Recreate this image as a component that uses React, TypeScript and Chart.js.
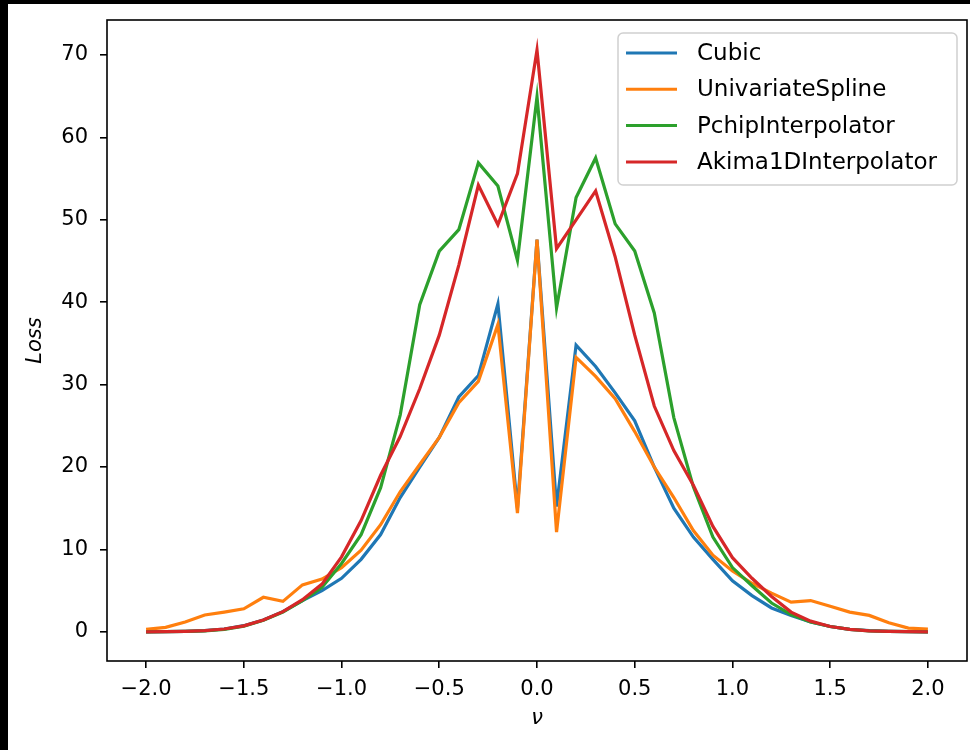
import React, { useEffect, useRef } from "react";
import { Chart, registerables } from "chart.js";

Chart.register(...registerables);

const nu = [
  -2.0, -1.9, -1.8, -1.7, -1.6, -1.5, -1.4, -1.3, -1.2, -1.1,
  -1.0, -0.9, -0.8, -0.7, -0.6, -0.5, -0.4, -0.3, -0.2, -0.1,
  0.0, 0.1, 0.2, 0.3, 0.4, 0.5, 0.6, 0.7, 0.8, 0.9,
  1.0, 1.1, 1.2, 1.3, 1.4, 1.5, 1.6, 1.7, 1.8, 1.9, 2.0,
];

const cubic = [
  0.0, 0.02, 0.06, 0.15, 0.35, 0.75, 1.45, 2.45, 3.8, 5.0,
  6.5, 8.8, 11.8, 16.3, 20.0, 23.6, 28.5, 31.1, 39.8, 15.0,
  47.6, 15.2, 34.8, 32.2, 29.0, 25.6, 20.0, 15.0, 11.5, 8.8,
  6.2, 4.4, 2.9, 2.0, 1.2, 0.65, 0.3, 0.14, 0.06, 0.02, 0.0,
];

const univariateSpline = [
  0.3, 0.55, 1.2, 2.05, 2.4, 2.8, 4.2, 3.7, 5.7, 6.4,
  7.8, 9.9, 13.0, 17.0, 20.3, 23.6, 27.8, 30.4, 37.3, 14.4,
  47.6, 12.1, 33.3, 31.0, 28.3, 24.3, 20.0, 16.3, 12.3, 9.3,
  7.4, 5.9, 4.7, 3.6, 3.8, 3.1, 2.4, 2.0, 1.1, 0.45, 0.35,
];

const pchip = [
  0.0, 0.02, 0.05, 0.12, 0.3, 0.7, 1.4, 2.4, 3.8, 5.4,
  8.3, 11.8, 17.5, 26.3, 39.7, 46.2, 48.8, 56.9, 54.1, 45.1,
  64.9, 39.3, 52.7, 57.5, 49.5, 46.2, 38.7, 26.0, 17.6, 11.5,
  7.8, 5.6, 3.5, 2.1, 1.2, 0.65, 0.3, 0.13, 0.05, 0.02, 0.0,
];

const akima = [
  0.0, 0.02, 0.06, 0.15, 0.35, 0.73, 1.45, 2.45, 3.9, 5.8,
  9.1, 13.5, 19.0, 23.7, 29.5, 36.0, 44.5, 54.2, 49.4, 55.6,
  70.6, 46.5, 50.0, 53.5, 45.5, 36.0, 27.4, 22.0, 17.8, 12.8,
  9.0, 6.5, 4.3, 2.4, 1.3, 0.65, 0.3, 0.13, 0.05, 0.02, 0.0,
];

const seriesNames = ["Cubic", "UnivariateSpline", "PchipInterpolator", "Akima1DInterpolator"];
const seriesValues = [cubic, univariateSpline, pchip, akima];
const seriesColors = ["#1f77b4", "#ff7f0e", "#2ca02c", "#d62728"];

const xTicks = [-2.0, -1.5, -1.0, -0.5, 0.0, 0.5, 1.0, 1.5, 2.0];
const yTicks = [0, 10, 20, 30, 40, 50, 60, 70];
const xLabel = "ν";
const yLabel = "Loss";

const FONT = '"DejaVu Sans", "Liberation Sans", sans-serif';

const decorPlugin = {
  id: "decor",
  afterDraw(chart: any) {
    const { ctx, chartArea: a } = chart;
    ctx.save();
    // frame
    ctx.strokeStyle = "#000";
    ctx.lineWidth = 1.6;
    ctx.strokeRect(a.left, a.top, a.right - a.left, a.bottom - a.top);

    // axis labels
    ctx.fillStyle = "#000";
    ctx.font = `italic 21px ${FONT}`;
    ctx.textAlign = "center";
    ctx.textBaseline = "middle";
    ctx.fillText(xLabel, (a.left + a.right) / 2, a.bottom + 58);
    ctx.save();
    ctx.translate(a.left - 71, (a.top + a.bottom) / 2);
    ctx.rotate(-Math.PI / 2);
    ctx.fillText(yLabel, 0, 0);
    ctx.restore();

    // legend
    const boxRight = a.right - 10;
    const boxLeft = boxRight - 339;
    const boxTop = a.top + 13;
    const boxBottom = boxTop + 152;
    ctx.beginPath();
    (ctx as any).roundRect(boxLeft, boxTop, boxRight - boxLeft, boxBottom - boxTop, 5);
    ctx.fillStyle = "rgba(255,255,255,0.8)";
    ctx.fill();
    ctx.strokeStyle = "#d0d0d0";
    ctx.lineWidth = 1.5;
    ctx.stroke();

    ctx.font = `23px ${FONT}`;
    ctx.textAlign = "left";
    ctx.textBaseline = "middle";
    seriesNames.forEach((name, i) => {
      const y = boxTop + 20 + i * 36.3;
      ctx.strokeStyle = seriesColors[i];
      ctx.lineWidth = 3;
      ctx.beginPath();
      ctx.moveTo(boxLeft + 8, y);
      ctx.lineTo(boxLeft + 59, y);
      ctx.stroke();
      ctx.fillStyle = "#000";
      ctx.fillText(name, boxLeft + 79, y + 1);
    });
    ctx.restore();
  },
};

function fmtX(v: number) {
  return v.toFixed(1).replace("-", "\u2212");
}

export default function App() {
  const canvasRef = useRef<HTMLCanvasElement | null>(null);

  useEffect(() => {
    const canvas = canvasRef.current;
    if (!canvas) return;
    const chart = new Chart(canvas, {
      type: "line",
      data: {
        datasets: seriesNames.map((name, i) => ({
          label: name,
          data: nu.map((x, j) => ({ x, y: seriesValues[i][j] })),
          borderColor: seriesColors[i],
          backgroundColor: seriesColors[i],
          borderWidth: 3.2,
          pointRadius: 0,
          tension: 0,
          fill: false,
          order: seriesNames.length - i,
        })),
      },
      options: {
        responsive: false,
        animation: false,
        devicePixelRatio: 1,
        layout: { padding: { top: 16, right: 3, left: 0, bottom: 0 } },
        plugins: {
          legend: { display: false },
          tooltip: { enabled: false },
          title: { display: false },
        },
        scales: {
          x: {
            type: "linear",
            min: -2.2,
            max: 2.2,
            afterBuildTicks: (scale: any) => {
              scale.ticks = xTicks.map((v) => ({ value: v }));
            },
            afterFit: (scale: any) => {
              scale.height = 89;
              scale.paddingLeft = 0;
              scale.paddingRight = 0;
              scale.paddingTop = 0;
              scale.paddingBottom = 0;
            },
            ticks: {
              callback: (v: any) => fmtX(Number(v)),
              color: "#000",
              font: { family: FONT, size: 21 },
              padding: 9,
              maxRotation: 0,
              autoSkip: false,
            },
            grid: {
              display: true,
              drawOnChartArea: false,
              drawTicks: true,
              tickLength: 7,
              color: "#000",
              lineWidth: 1.6,
            },
            border: { display: false },
          },
          y: {
            type: "linear",
            min: -3.535,
            max: 74.24,
            afterBuildTicks: (scale: any) => {
              scale.ticks = yTicks.map((v) => ({ value: v }));
            },
            afterFit: (scale: any) => {
              scale.width = 99;
              scale.paddingLeft = 0;
              scale.paddingRight = 0;
              scale.paddingTop = 0;
              scale.paddingBottom = 0;
            },
            ticks: {
              callback: (v: any) => String(v),
              color: "#000",
              font: { family: FONT, size: 21 },
              padding: 12,
              autoSkip: false,
            },
            grid: {
              display: true,
              drawOnChartArea: false,
              drawTicks: true,
              tickLength: 7,
              color: "#000",
              lineWidth: 1.6,
            },
            border: { display: false },
          },
        },
      },
      plugins: [decorPlugin],
    } as any);
    return () => chart.destroy();
  }, []);

  return (
    <div
      style={{
        position: "fixed",
        left: 0,
        top: 0,
        width: 970,
        height: 750,
        background: "#000",
        overflow: "hidden",
      }}
    >
      <canvas
        ref={canvasRef}
        width={962}
        height={746}
        style={{
          position: "absolute",
          left: 8,
          top: 4,
          width: 962,
          height: 746,
          background: "#fff",
          display: "block",
        }}
      />
    </div>
  );
}
